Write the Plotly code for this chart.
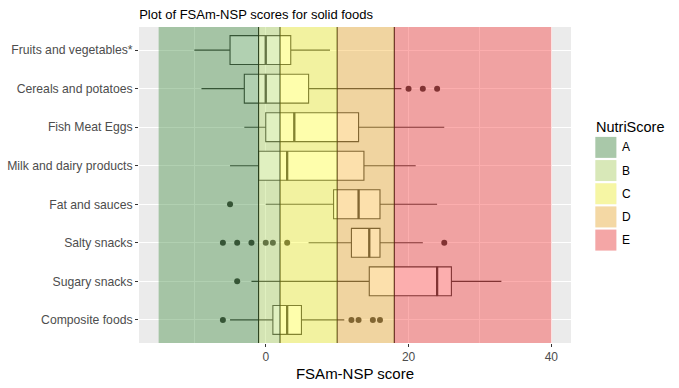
import plotly.graph_objects as go

# ---------------- data ----------------
categories = ["Fruits and vegetables*", "Cereals and potatoes", "Fish Meat Eggs",
              "Milk and dairy products", "Fat and sauces", "Salty snacks",
              "Sugary snacks", "Composite foods"]
lower_whisker = [-10, -9, -3, -5, 0, 6, -2, -5]
q1 = [-5, -3, 0, -1, 9.5, 12, 14.5, 1]
median = [0, 0, 4, 3, 13, 14.5, 24, 3]
q3 = [3.5, 6, 13, 13.75, 16, 16, 26, 5]
upper_whisker = [9, 19, 25, 21, 24, 22, 33, 11]

outlier_cat = ["Cereals and potatoes"] * 3 + ["Fat and sauces"] + ["Salty snacks"] * 7 \
    + ["Sugary snacks"] + ["Composite foods"] * 5
outlier_val = [20, 22, 24, -5, -6, -4, -2, 0, 1, 3, 25, -4, -6, 12, 13, 15, 16]

grades = ["A", "B", "C", "D", "E"]
grade_edges = [-15, -1, 2, 10, 18, 40]
thresholds = [-1, 2, 10, 18]
grade_colors = ["rgba(60,137,60,0.4)", "rgba(177,217,97,0.4)", "rgba(252,252,47,0.4)",
                "rgba(247,177,47,0.4)", "rgba(247,52,52,0.4)"]
x_ticks = [0, 20, 40]

# ---------------- layout geometry ----------------
W, H = 679, 388
PL, PR, PT, PB = 139.3, 570.7, 27.0, 343.3
FONT = "Arial, Liberation Sans, sans-serif"


def px_x(p):
    return (p - PL) / (PR - PL)


def px_y(p):
    return (PB - p) / (PB - PT)


fig = go.Figure()

fig.add_trace(go.Box(
    y=categories, q1=q1, median=median, q3=q3,
    lowerfence=lower_whisker, upperfence=upper_whisker,
    orientation="h", width=0.75, whiskerwidth=0,
    fillcolor="white", line=dict(color="#333333", width=1.1),
    boxpoints=False, showlegend=False, hoverinfo="skip",
))

# thicker median lines (ggplot fatten); line-ns length = 1.4 * size
fig.add_trace(go.Scatter(
    x=median, y=categories, mode="markers",
    marker=dict(symbol="line-ns", size=29.5 / 1.4, line=dict(color="#333333", width=2.3)),
    showlegend=False, hoverinfo="skip",
))

fig.add_trace(go.Scatter(
    x=outlier_val, y=outlier_cat, mode="markers",
    marker=dict(size=6, color="#333333"),
    showlegend=False, hoverinfo="skip",
))

shapes = []
for t in thresholds:
    shapes.append(dict(type="line", xref="x", yref="paper", x0=t, x1=t, y0=0, y1=1,
                       line=dict(color="black", width=1.1), layer="above"))
for i, g in enumerate(grades):
    shapes.append(dict(type="rect", xref="x", yref="paper",
                       x0=grade_edges[i], x1=grade_edges[i + 1], y0=0, y1=1,
                       fillcolor=grade_colors[i], line=dict(width=0), layer="above"))

# manual legend (ggplot-style keys)
annotations = [dict(text="NutriScore", x=px_x(594), y=px_y(127), xref="paper", yref="paper",
                    xanchor="left", yanchor="middle", showarrow=False,
                    font=dict(family=FONT, size=14.5, color="black"))]
key_top = 137.0
pitch = 23.2
for i, g in enumerate(grades):
    y0 = key_top + i * pitch
    y1 = y0 + 21
    shapes.append(dict(type="rect", xref="paper", yref="paper",
                       x0=px_x(595), x1=px_x(616), y0=px_y(y1), y1=px_y(y0),
                       fillcolor="#F2F2F2", line=dict(width=0), layer="above"))
    shapes.append(dict(type="rect", xref="paper", yref="paper",
                       x0=px_x(595), x1=px_x(616), y0=px_y(y1), y1=px_y(y0),
                       fillcolor=grade_colors[i], line=dict(width=0), layer="above"))
    annotations.append(dict(text=g, x=px_x(620), y=px_y((y0 + y1) / 2), xref="paper",
                            yref="paper", xanchor="left", yanchor="middle", showarrow=False,
                            font=dict(family=FONT, size=12, color="black")))

fig.update_layout(
    width=W, height=H,
    margin=dict(l=PL, r=W - PR, t=PT, b=H - PB, pad=0),
    paper_bgcolor="white", plot_bgcolor="#EBEBEB",
    font=dict(family=FONT, size=12, color="#4D4D4D"),
    title=dict(text="Plot of FSAm-NSP scores for solid foods",
               x=px_x(139.5), xref="paper", xanchor="left",
               y=1 - 14 / H, yref="container", yanchor="middle", automargin=False,
               font=dict(family=FONT, size=13, color="black")),
    shapes=shapes, annotations=annotations,
    showlegend=False,
    xaxis=dict(range=[-17.75, 42.75], tickvals=x_ticks, ticks="outside", ticklen=3,
               tickcolor="#333333", tickwidth=1, automargin=False,
               tickfont=dict(family=FONT, size=12, color="#4D4D4D"),
               showgrid=True, gridcolor="white", gridwidth=1.1, zeroline=False,
               showline=False,
               minor=dict(dtick=10, tick0=0, showgrid=True, gridcolor="white",
                          gridwidth=0.5, ticks=""),
               title=dict(text="FSAm-NSP score", standoff=5,
                          font=dict(family=FONT, size=15, color="black"))),
    yaxis=dict(type="category", categoryorder="array", categoryarray=categories,
               range=[7.6, -0.6], ticks="outside", ticklen=3, tickcolor="#333333",
               tickwidth=1, automargin=False,
               tickfont=dict(family=FONT, size=12.2, color="#4D4D4D"),
               showgrid=True, gridcolor="white", gridwidth=1.1, zeroline=False,
               showline=False),
)

fig.write_html("out.html", config={"displayModeBar": False},
               post_script="document.body.style.margin='0';document.body.style.overflow='hidden';")
